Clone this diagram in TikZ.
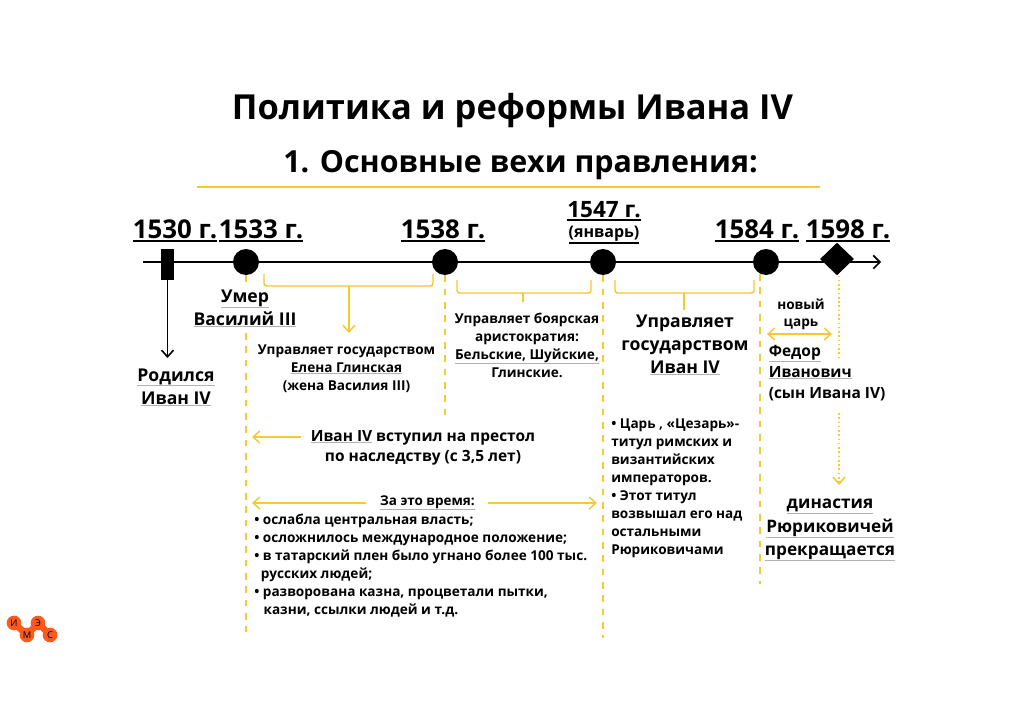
\documentclass[tikz,border=0pt]{standalone}
\usepackage{fontspec}
\setmainfont{Open Sans}
\usetikzlibrary{arrows.meta,positioning,shapes.geometric,backgrounds}
\definecolor{gold}{HTML}{F6C92E}
\definecolor{logoorange}{HTML}{FF5A1E}
\newcommand{\yearln}[1]{\leavevmode\vtop{\hbox{#1}\kern1pt\hrule height 1.5pt}}
\newcommand{\softln}[1]{\leavevmode\vtop{\hbox{#1}\kern.3pt{\color{black!30}\hrule height .4pt}}}
\newcommand{\fsz}[2]{\fontsize{#1}{#2}\selectfont\bfseries}

\begin{document}
\begin{tikzpicture}[
    x=.75pt,y=-.75pt,
    year/.style={font=\fsz{19.4}{22}},
    big/.style={align=center,font=\fsz{13.2}{17.25},inner sep=0pt},
    mid/.style={align=center,font=\fsz{10.2}{13.5},inner sep=0pt},
    small/.style={align=left,font=\fsz{10.2}{13.5},inner sep=0pt},
    event/.style={circle,fill=black,minimum size=19.5pt,inner sep=0pt},
    guide/.style={gold,line width=1.1pt,dash pattern=on 5pt off 5pt},
    dots/.style={gold,dotted,line width=1.2pt},
    brace/.style={gold,line width=1.1pt,rounded corners=2pt},
    goldarrow/.style={gold,line width=1.1pt,-{Straight Barb[length=5pt,width=9pt]}},
    letter/.style={circle,fill=logoorange,minimum size=11pt,inner sep=0pt,font=\fontsize{7}{7}\selectfont}
  ]
    \useasboundingbox (0,0) rectangle (1024,724);
    \begin{scope}[on background layer]
      \fill[white] (0,0) rectangle (1024,724);
    \end{scope}

    % title
    \node[font=\fsz{25.85}{30}] (title) at (512.5,111) {Политика и реформы Ивана IV};
    \node[font=\fsz{22.8}{28}] (subtitle) at (520.5,165) {1. Основные вехи правления:};
    \coordinate (ruleL) at (197,187); \coordinate (ruleR) at (820,187);
    \draw[gold,line width=.9pt] (ruleL) -- (ruleR);

    % time axis
    \coordinate (axisL) at (143,262); \coordinate (axisR) at (881,262);
    \draw[line width=1.2pt,-{Straight Barb[length=5pt,width=10pt]}] (axisL) -- (axisR);
    \node[fill=black,minimum width=9.75pt,minimum height=23.5pt,inner sep=0pt] (m1530) at (167.5,264.5) {};
    \node[event] (m1533) at (246,262) {};
    \node[event] (m1538) at (445,262) {};
    \node[event] (m1547) at (603,262) {};
    \node[event] (m1584) at (766,262) {};
    \node[diamond,fill=black,minimum width=25.5pt,minimum height=24.5pt,inner sep=0pt] (m1598) at (837,259) {};

    % years
    \node[year] (y1530) at (175,231) {\yearln{1530 г.}};
    \node[year] (y1533) at (261,231) {\yearln{1533 г.}};
    \node[year] (y1538) at (443,231) {\yearln{1538 г.}};
    \node[font=\fsz{16.9}{18}] (y1547) at (604,211) {\yearln{1547 г.}};
    \node[font=\fsz{12}{14}] (jan) at (604,235) {\yearln{(январь)}};
    \node[year] (y1584) at (757,231) {\yearln{1584 г.}};
    \node[year] (y1598) at (848,231) {\yearln{1598 г.}};

    % labels under the axis
    \node[big] (born) at (176,387) {\softln{Родился}\\\softln{Иван IV}};
    \draw[line width=1.2pt,-{Straight Barb[length=5pt,width=9pt]}] (m1530) -- (167.5,358);
    \node[big] (vasily) at (245,308) {\softln{Умер}\\\softln{Василий III}};
    \node[mid] (elena) at (346.5,369) {Управляет государством\\\softln{Елена Глинская}\\(жена Василия III)};
    \node[mid] (boyars) at (527,345) {Управляет боярская\\аристократия:\\\softln{Бельские, Шуйские,}\\Глинские.};
    \node[big] (ivan) at (685,345) {Управляет\\государством\\\softln{Иван IV}};
    \node[align=center,font=\fsz{10.2}{12.75},inner sep=0pt] (newtsar) at (801,314) {новый\\царь};
    \node[align=left,font=\fsz{11.6}{15.75},inner sep=0pt,anchor=north west] (fedor) at (768.5,345) {\softln{Федор}\\\softln{Иванович}\\(сын Ивана IV)};
    \node[big,font=\fsz{12.9}{17.6}] (dynasty) at (830,530) {\softln{династия}\\\softln{Рюриковичей}\\\softln{прекращается}};
    \node[small,anchor=north west] (caesar) at (611,418.5) {• Царь , «Цезарь»-\\титул римских и\\византийских\\императоров.\\• Этот титул\\возвышал его над\\остальными\\Рюриковичами};
    \node[align=center,font=\fsz{11.6}{15},inner sep=0pt] (throne) at (423,447.5) {\softln{Иван IV} вступил на престол\\по наследству (с 3,5 лет)};
    \node[font=\fsz{10.1}{11},inner sep=0pt] (during) at (427.5,503) {\softln{За это время:}};
    \node[small,anchor=north west] (results) at (254,514) {• ослабла центральная власть;\\• осложнилось международное положение;\\• в татарский плен было угнано более 100 тыс.\\\hspace*{5pt}русских людей;\\• разворована казна, процветали пытки,\\\hspace*{7pt}казни, ссылки людей и т.д.};

    % dashed guides
    \draw[guide] (m1533.south) -- (246,287);
    \draw[guide] (246,333) -- (246,632);
    \draw[guide] (m1538.south) -- (445,415);
    \draw[guide] (m1547.south) -- (603,638);
    \draw[guide] (760,274) -- (760,584);
    \draw[dots] (m1598.south) ++(2,0) -- (839,358);
    \draw[dots,-{Straight Barb[length=5pt,width=9pt]}] (839,413) -- (839,485);

    % brackets
    \draw[brace] (264,274) |- (433,286) -- (433,274);
    \draw[goldarrow] (349,286) -- (349,333);
    \draw[brace] (457,280) |- (591,293) -- (591,280);
    \draw[gold,line width=1.1pt] (523,293) -- (523,302);
    \draw[brace] (615,280) |- (754,293) -- (754,280);
    \draw[gold,line width=1.1pt] (684,293) -- (684,310);

    % gold arrows beside the text
    \draw[goldarrow,{Straight Barb[length=5pt,width=9pt]}-{Straight Barb[length=5pt,width=9pt]}] (767,334) -- (832,334);
    \draw[goldarrow] (throne.west) ++(-10,-10.5) -- (252,437);
    \draw[goldarrow] (during.west) ++(-14,0) -- (252,503);
    \draw[goldarrow] (during.east) ++(13,0) -- (597,503);

    % logo
    \node[letter] (li) at (14,623) {И};
    \node[letter] (lm) at (27,635) {М};
    \node[letter] (le) at (38,623) {Э};
    \node[letter] (ls) at (50,635) {С};
    \begin{scope}[on background layer]
      \draw[logoorange,line width=5pt] (li.center) -- (lm.center) -- (le.center) -- (ls.center);
    \end{scope}
  \end{tikzpicture}
\end{document}
